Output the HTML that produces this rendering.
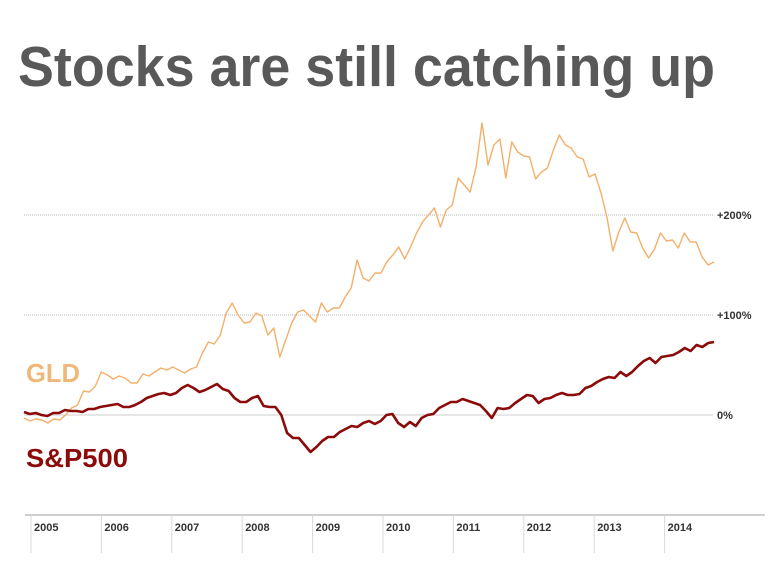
<!DOCTYPE html>
<html><head><meta charset="utf-8"><style>
html,body{margin:0;padding:0;background:#fff;}
svg{display:block;font-family:"Liberation Sans",Arial,sans-serif;}
</style></head><body>
<svg id="chart" width="774" height="568" viewBox="0 0 774 568" xmlns="http://www.w3.org/2000/svg">
<text x="18" y="86" font-size="57" font-weight="bold" fill="#595959" textLength="697" lengthAdjust="spacingAndGlyphs">Stocks are still catching up</text>
<g id="grid"></g>
<g id="xaxis"></g>
<g id="series"></g>
<text x="26" y="382" font-size="26" font-weight="bold" fill="#F0B878" textLength="54" lengthAdjust="spacingAndGlyphs">GLD</text>
<text x="26" y="467" font-size="26" font-weight="bold" fill="#8B0A0A" textLength="102" lengthAdjust="spacingAndGlyphs">S&amp;P500</text>
</svg>
<script>
const years = ["2005","2006","2007","2008","2009","2010","2011","2012","2013","2014"];
const yTicks = [0, 100, 200];
const yTickLabels = ["0%", "+100%", "+200%"];
const gld = [-3,-6,-4,-5,-8,-4,-5,0,7,10,24,23,29,43,40,36,39,37,32,32,41,39,43,47,45,48,45,42,46,48,62,73,71,80,102,112,100,92,93,102,99,80,87,58,75,92,103,105,99,93,112,103,107,107,118,127,155,137,134,142,142,
153,160,168,156,168,182,193,200,207,188,205,210,237,230,223,248,292,250,270,276,237,273,263,259,258,236,243,247,265,280,270,267,258,256,238,241,222,198,164,183,197,183,182,167,157,166,182,174,175,167,182,173,173,158,150,153];
const sp500 = [3,1,2,0,-1,2,2,5,4,4,3,6,6,8,9,10,11,8,8,10,13,17,19,21,22,20,22,27,30,27,23,25,28,31,26,24,17,13,13,17,19,9,8,8,0,-18,-23,-23,-30,-37,-32,-26,-22,-22,-17,-14,-11,-12,-8,-6,-9,-6,0,
1,-8,-12,-7,-11,-3,0,1,7,10,13,13,16,14,12,10,4,-3,7,6,7,12,16,20,19,12,16,17,20,22,20,20,21,27,29,33,36,38,37,43,39,43,49,54,57,52,58,59,60,63,67,64,70,68,72,73];

const NS="http://www.w3.org/2000/svg";
const X0=24, X1=714;
function xIdx(i,n){return X0+i*(X1-X0)/(n-1);}
function y(v){return 415 - v*1.0;}
function yearX(k){return 31 + k*70.4;}
function mk(tag,attrs,parent){const e=document.createElementNS(NS,tag);for(const k in attrs)e.setAttribute(k,attrs[k]);parent.appendChild(e);return e;}

const grid=document.getElementById('grid');
yTicks.forEach((t,i)=>{
  const l=mk('line',{x1:24,x2:713,y1:y(t),y2:y(t),stroke:t===0?'#cccccc':'#bbbbbb','stroke-width':1,'stroke-dasharray':t===0?'none':'1,1'},grid);
  
  
  const tx=mk('text',{x:717,y:y(t)+4,'font-size':11,'font-weight':'bold',fill:'#333'},grid);
  tx.textContent=yTickLabels[i];
  
  
});

const xa=document.getElementById('xaxis');
const al=mk('line',{x1:25,x2:765,y1:515,y2:515,stroke:'#cfcfcf','stroke-width':2},xa);


years.forEach((yr,k)=>{
  const x=yearX(k);
  const tl=mk('line',{x1:x,x2:x,y1:515,y2:553,stroke:'#d8d8d8','stroke-width':1},xa);
  
  
  const t=mk('text',{x:x+3,y:531,'font-size':11,'font-weight':'bold',fill:'#333'},xa);
  t.textContent=yr;
  
  
});

const sg=document.getElementById('series');
function line(data,color,w,name){
  const d=data.map((v,i)=>(i?'L':'M')+xIdx(i,data.length).toFixed(1)+','+y(v).toFixed(1)).join('');
  const p=mk('path',{d:d,fill:'none',stroke:color,'stroke-width':w,'stroke-linejoin':'round'},sg);
  
  
}
line(gld,'#F2B06A',1.4,'gld-line');
line(sp500,'#8B0A0A',2.6,'sp500-line');
</script>
</body></html>
